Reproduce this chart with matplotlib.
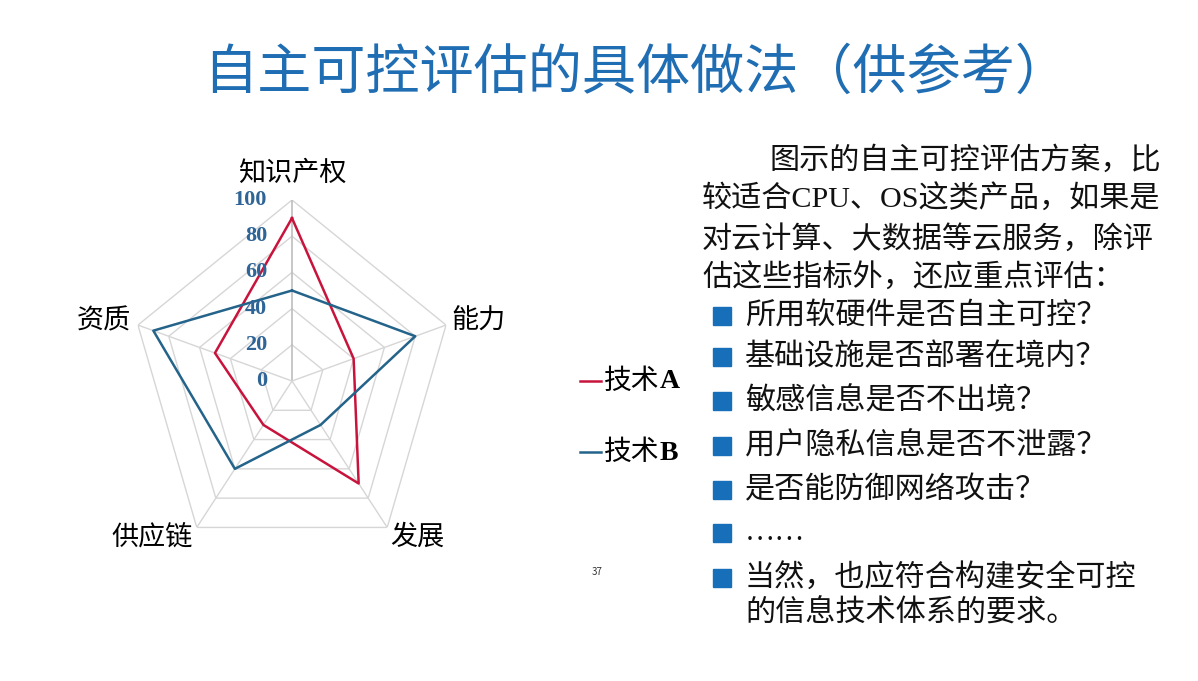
import numpy as np
import matplotlib
matplotlib.use("Agg")
import matplotlib.pyplot as plt

plt.rcParams['font.family'] = ['Noto Sans CJK SC', 'DejaVu Sans']

# data
categories = ["知识产权", "能力", "发展", "供应链", "资质"]
tech_a = [90, 40, 70, 30, 50]
tech_b = [50, 80, 30, 60, 90]
series_names = ["技术", "技术"]
series_tags = ["A", "B"]
ring_levels = [0, 20, 40, 60, 80, 100]

title = "自主可控评估的具体做法（供参考）"
intro_lines = [
    "图示的自主可控评估方案，比",
    "较适合CPU、OS这类产品，如果是",
    "对云计算、大数据等云服务，除评",
    "估这些指标外，还应重点评估：",
]
bullets = [
    ["所用软硬件是否自主可控？"],
    ["基础设施是否部署在境内？"],
    ["敏感信息是否不出境？"],
    ["用户隐私信息是否不泄露？"],
    ["是否能防御网络攻击？"],
    ["……"],
    ["当然，也应符合构建安全可控", "的信息技术体系的要求。"],
]
page_no = "37"

W, H = 1198, 681
fig = plt.figure(figsize=(W / 100, H / 100), dpi=100)
fig.patch.set_facecolor("white")


def fx(x):
    return x / W


def fy(y):
    return 1 - y / H


title_blue = "#1f6db3"
red = "#c8143c"
blue = "#24638a"
grid = "#d6d6d6"

fig.text(fx(636), fy(73), title, fontsize=39, color=title_blue,
         ha="center", va="center")

# radar chart (slightly squeezed horizontally like the slide)
cx, cy, RX, RY = 292, 381, 162, 181
ax = fig.add_axes([fx(cx - RX), fy(cy + RY), 2 * RX / W, 2 * RY / H],
                  projection="polar")
ax.set_aspect("auto")
ax.set_theta_offset(np.pi / 2)
ax.set_theta_direction(-1)
ax.set_ylim(0, 100)
ax.grid(False)
ax.set_xticks([])
ax.set_yticks([])
ax.spines["polar"].set_visible(False)
ax.patch.set_alpha(0)

n = len(categories)
theta = np.linspace(0, 2 * np.pi, n, endpoint=False)
theta_c = np.append(theta, theta[0])

for lvl in ring_levels[1:]:
    ax.plot(theta_c, [lvl] * (n + 1), color=grid, lw=1.0, zorder=1)
for i, t in enumerate(theta):
    ax.plot([t, t], [0, 100], color="#bdbdbd" if i == 0 else grid,
            lw=1.2 if i == 0 else 1.0, zorder=1)

ax.plot(theta_c, tech_a + tech_a[:1], color=red, lw=1.8, zorder=3)
ax.plot(theta_c, tech_b + tech_b[:1], color=blue, lw=1.8, zorder=3)

for lvl in ring_levels:
    ax.annotate(str(lvl), xy=(0, lvl), xytext=(-18, 0),
                textcoords="offset points", ha="right", va="center",
                fontsize=16, fontweight="bold", color="#2f6496",
                family=["Liberation Serif", "DejaVu Serif"])

label_r = [115, 120, 116, 122, 121]
label_t = [0, 74, 138, 225, 286]
for name, t, r in zip(categories, label_t, label_r):
    ax.text(np.deg2rad(t), r, name, fontsize=19.5, ha="center", va="center")

# legend
for i, (name, tag, col) in enumerate(zip(series_names, series_tags, [red, blue])):
    y = 381 + i * 71
    fig.add_artist(plt.Line2D([fx(580), fx(601)], [fy(y), fy(y)],
                              color=col, lw=1.8))
    fig.text(fx(604), fy(y), name, fontsize=20, ha="left", va="center")
    fig.text(fx(660), fy(y + 1), tag, fontsize=20, ha="left", va="center",
             family=["Liberation Serif"], fontweight="bold")

fig.text(fx(597), fy(572), page_no, fontsize=7, ha="center", va="center",
         color="#333333")

# right-hand text
txt_font = ["Liberation Serif", "Noto Sans CJK SC"]
for i, line in enumerate(intro_lines):
    x0 = 770 if i == 0 else 702
    fig.text(fx(x0), fy(160 + i * 39.5), line, fontsize=21.7,
             ha="left", va="center", family=txt_font, color="#111111")

bullet_y = [316, 357, 401, 446, 490, 533, 578]
for y, lines in zip(bullet_y, bullets):
    fig.patches.append(plt.Rectangle((fx(713), fy(y + 9)), 18 / W, 18 / H,
                                     transform=fig.transFigure,
                                     color="#166fb8", figure=fig))
    for j, line in enumerate(lines):
        fig.text(fx(745), fy(y + j * 35), line, fontsize=21.7,
                 ha="left", va="center", family=txt_font, color="#111111")

fig.savefig("out.png", dpi=100)
